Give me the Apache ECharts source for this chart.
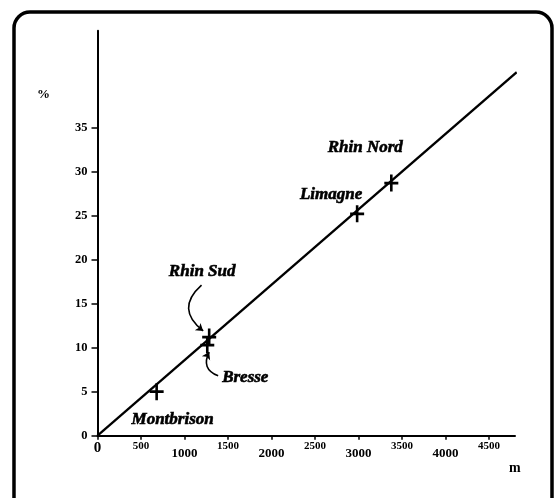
<!DOCTYPE html>
<html>
<head>
<meta charset="utf-8">
<script src="https://cdn.jsdelivr.net/npm/echarts@6/dist/echarts.min.js"></script>
<style>
html,body{margin:0;padding:0;background:#fff;}
#main{width:557px;height:498px;}
</style>
</head>
<body>
<div id="main"></div>
<script>
// sites (nom, m, %)
var siteNames = ['Montbrison', 'Bresse', 'Rhin Sud', 'Limagne', 'Rhin Nord'];
var siteX = [680, 1262, 1284, 2985, 3378];
var siteY = [5, 10.3, 11.2, 25.2, 28.7];

// droite
var lineX = [0, 4820];
var lineY = [0, 41.3];

// graduations
var xTicks = [0, 500, 1000, 1500, 2000, 2500, 3000, 3500, 4000, 4500];
var yTicks = [0, 5, 10, 15, 20, 25, 30, 35];

// fleches (depart -> arrivee)
var arrowFrom = [[1196, 17.1], [1387, 6.8]];
var arrowTo = [[1215, 11.9], [1284, 9.5]];

var serif = '"Liberation Serif", "DejaVu Serif", serif';

// decalage des etiquettes
var labelOffsets = [[16, 28], [38, 33], [-7, -65], [-26, -19], [-26, -35]];
var arrowCurves = [-0.6, 0.55];

var myChart = echarts.init(document.getElementById('main'));

var points = [];
for (var i = 0; i < siteNames.length; i++) {
	points.push({
		name: siteNames[i],
		value: [siteX[i], siteY[i]],
		label: {offset: labelOffsets[i]}
	});
}
var fitLine = [];
for (var i = 0; i < lineX.length; i++) {
	fitLine.push([lineX[i], lineY[i]]);
}
var arrows = [];
for (var i = 0; i < arrowFrom.length; i++) {
	arrows.push({
		coords: [arrowFrom[i], arrowTo[i]],
		lineStyle: {curveness: arrowCurves[i]}
	});
}

var option = {
	animation: false,
	backgroundColor: '#fff',
	grid: {left: 97.5, right: 42, top: 30.7, bottom: 62.3},
	graphic: [
		{
			type: 'rect',
			shape: {x: 14, y: 12, width: 538, height: 520, r: 16},
			style: {fill: 'none', stroke: '#000', lineWidth: 3.5}
		},
		{
			type: 'text', left: 37, top: 88,
			style: {text: '%', font: 'bold 13px ' + serif, fill: '#000'}
		},
		{
			type: 'text', left: 509, top: 461,
			style: {text: 'm', font: 'bold 14px ' + serif, fill: '#000'}
		}
	],
	xAxis: {
		type: 'value',
		min: 0,
		max: 4800,
		splitLine: {show: false},
		axisLine: {onZero: false, lineStyle: {color: '#000', width: 2}},
		axisTick: {customValues: xTicks, length: 4, lineStyle: {color: '#000', width: 1.5}},
		axisLabel: {
			customValues: xTicks,
			margin: 5,
			color: '#000',
			fontFamily: serif,
			fontWeight: 'bold',
			formatter: function (v) {
				if (v === 0) return '{z|0}';
				return v % 1000 === 0 ? '{b|' + v + '}' : '{s|' + v + '}';
			},
			rich: {
				z: {fontSize: 15, fontFamily: serif, fontWeight: 'bold', color: '#000'},
				b: {fontSize: 13, fontFamily: serif, fontWeight: 'bold', color: '#000', padding: [6, 0, 0, 0]},
				s: {fontSize: 11, fontFamily: serif, fontWeight: 'bold', color: '#000'}
			}
		}
	},
	yAxis: {
		type: 'value',
		min: 0,
		max: 46,
		splitLine: {show: false},
		axisLine: {onZero: false, lineStyle: {color: '#000', width: 2}},
		axisTick: {customValues: yTicks, length: 6, lineStyle: {color: '#000', width: 1.5}},
		axisLabel: {
			customValues: yTicks,
			margin: 10,
			color: '#000',
			fontFamily: serif,
			fontWeight: 'bold',
			fontSize: 12.5
		}
	},
	series: [
		{
			name: 'droite',
			type: 'line',
			data: fitLine,
			symbol: 'none',
			lineStyle: {color: '#000', width: 2.3}
		},
		{
			name: 'sites',
			type: 'scatter',
			data: points,
			symbol: 'path://M-1.3,-8h2.6v16h-2.6zM-7,-1.3h14v2.6h-14z',
			symbolSize: [14, 17],
			itemStyle: {color: '#000', opacity: 1},
			label: {
				show: true,
				position: 'inside',
				formatter: '{b}',
				color: '#000',
				fontFamily: serif,
				fontStyle: 'italic',
				fontWeight: 'bold',
				fontSize: 17,
				textBorderColor: '#000',
				textBorderWidth: 0.6
			},
			z: 3
		},
		{
			name: 'fleches',
			type: 'lines',
			coordinateSystem: 'cartesian2d',
			data: arrows,
			symbol: ['none', 'arrow'],
			symbolSize: 7,
			lineStyle: {color: '#000', width: 1.6, opacity: 1}
		}
	]
};

myChart.setOption(option);
</script>
</body>
</html>
